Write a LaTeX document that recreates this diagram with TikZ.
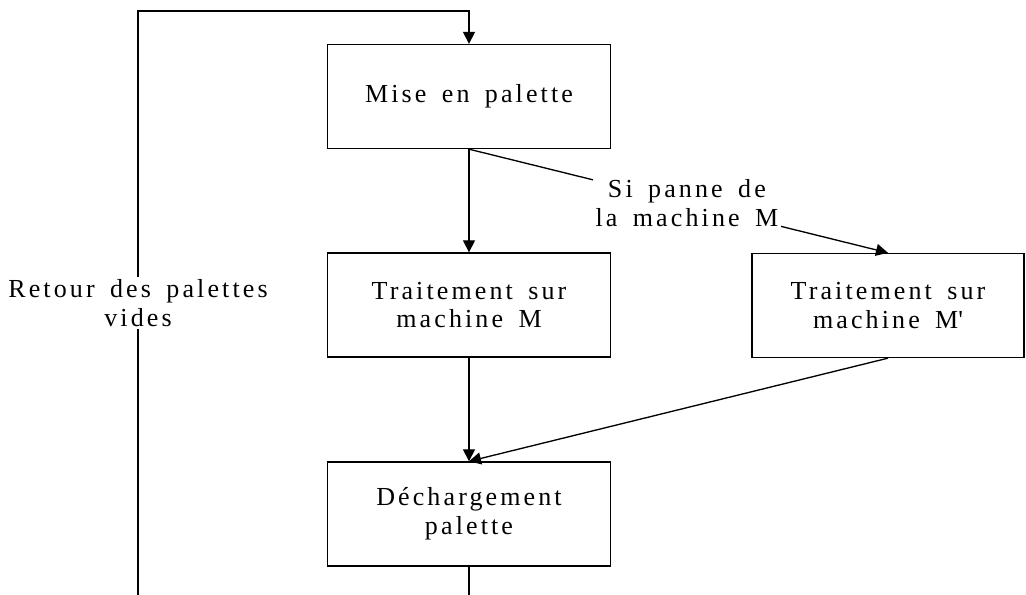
\documentclass[tikz,border=0pt]{standalone}
\usepackage{fontspec}
\setmainfont{Liberation Serif}[LetterSpace=12,WordSpace=1.6]
\usepackage{tikz}
\usetikzlibrary{arrows.meta,positioning}

\begin{document}
\begin{tikzpicture}[
  x=0.75pt,y=-0.75pt,
  box/.style={draw,line width=1pt,fill=white,minimum width=212pt,minimum height=78pt,align=center,font=\fontsize{19.5}{21.5}\selectfont},
  arr/.style={-{Triangle[length=9pt,width=9pt]},line width=1pt},
  lbl/.style={fill=white,inner sep=2pt,align=center,font=\fontsize{19.5}{21.5}\selectfont}
]
\useasboundingbox (0,0) rectangle (1026,595);

\node[box] (mise)  at (469,96.5)  {Mise en palette};
\node[box] (trtM)  at (469,305)   {Traitement sur\\machine M};
\node[box,minimum width=204pt] (trtMp) at (888,305.5) {Traitement sur\\machine M\textquotesingle};
\node[box] (dech)  at (469,514)   {Déchargement\\palette};

\coordinate (tl) at (138,11);
\coordinate (bl) at (138,595);

% flux principal
\draw[arr] (mise) -- (trtM);
\draw[arr] (trtM) -- (dech);
% cas de panne
\draw[arr] (mise.south) -- node[lbl,pos=0.52]{Si panne de\\la machine M} (trtMp.north);
\draw[arr] (trtMp.south) -- (dech.north);
% retour des palettes
\draw[line width=1pt] (dech.south) -- (dech.south |- bl);
\draw[arr] (bl) -- node[lbl]{Retour des palettes\\vides} (tl) -| (mise.north);
\end{tikzpicture}
\end{document}
